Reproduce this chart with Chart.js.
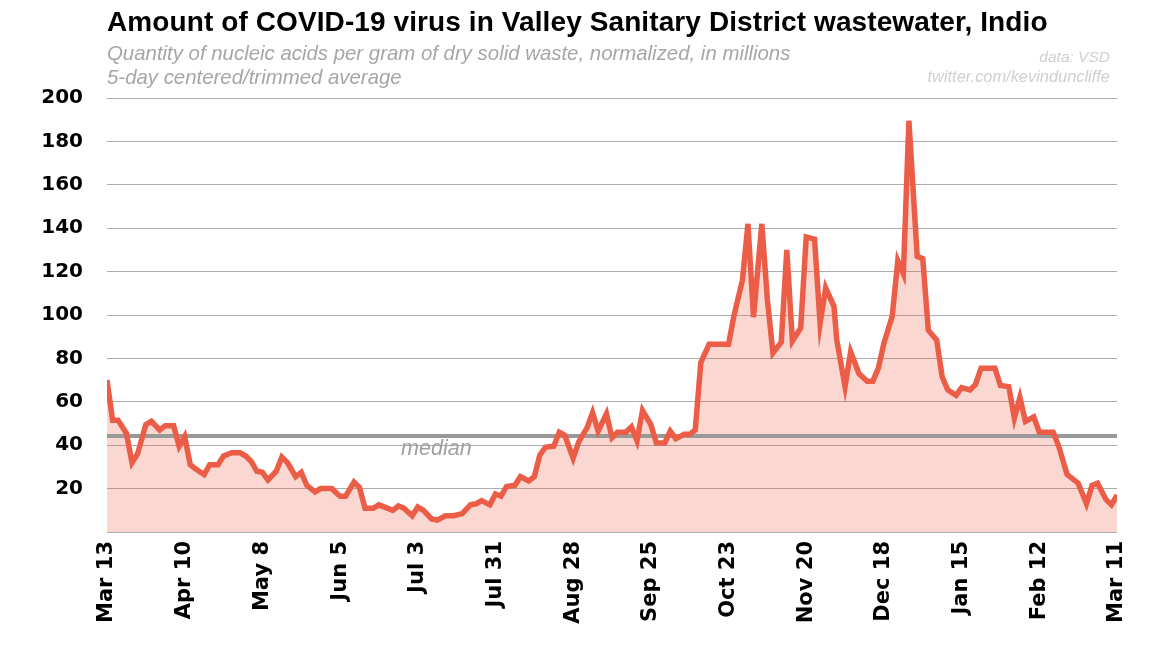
<!DOCTYPE html>
<html>
<head>
<meta charset="utf-8">
<script src="https://cdn.jsdelivr.net/npm/chart.js@4.4.1/dist/chart.umd.min.js"></script>
<style>
    html, body { margin: 0; padding: 0; background: #fff; }
    #wrap { position: relative; width: 1152px; height: 648px; overflow: hidden; }
    canvas { position: absolute; left: 0; top: 0; }
    .title { position: absolute; left: 107px; top: 6px; font-family: "Liberation Sans", Arial, sans-serif; font-weight: bold; font-size: 28px; color: #000; white-space: nowrap; letter-spacing: 0.1px; }
    .sub { position: absolute; left: 107px; font-family: "Liberation Sans", Arial, sans-serif; font-style: italic; font-size: 20.4px; color: #a6a6a6; white-space: nowrap; }
    .credit { position: absolute; right: 42px; font-family: "Liberation Sans", Arial, sans-serif; font-style: italic; color: #cfcfcf; white-space: nowrap; text-align: right; }
</style>
</head>
<body>
<div id="wrap">
    <canvas id="covidChart" width="1152" height="648"></canvas>
    <div class="title">Amount of COVID-19 virus in Valley Sanitary District wastewater, Indio</div>
    <div class="sub" style="top:42px">Quantity of nucleic acids per gram of dry solid waste, normalized, in millions</div>
    <div class="sub" style="top:66px">5-day centered/trimmed average</div>
    <div class="credit" style="top:48px; font-size:15.5px">data: VSD</div>
    <div class="credit" style="top:67px; font-size:16.4px">twitter.com/kevinduncliffe</div>
</div>
<script>
    // days since Mar 13, and the 5-day average
    const days = [
        0, 2, 4, 7, 9, 11, 14, 16, 19, 21, 24, 26, 28, 30, 32, 35, 37, 40, 42, 45,
        48, 50, 52, 54, 56, 58, 61, 63, 65, 68, 70, 72, 75, 77, 81, 84, 86, 89, 91, 93,
        96, 98, 101, 103, 105, 107, 110, 112, 114, 117, 119, 122, 125, 128, 131, 133, 135, 138, 140, 142,
        144, 147, 149, 152, 154, 156, 158, 161, 163, 165, 168, 170, 173, 175, 177, 180, 182, 184, 187, 189,
        191, 193, 196, 198, 201, 203, 205, 208, 210, 212, 214, 217, 224, 226, 229, 231, 233, 236, 238, 240,
        243, 245, 247, 250, 252, 255, 257, 259, 262, 263, 266, 268, 271, 274, 276, 278, 280, 283, 285, 287,
        289, 292, 294, 296, 299, 301, 303, 306, 308, 311, 313, 315, 320, 322, 325, 327, 329, 331, 334, 336,
        341, 343, 346, 350, 353, 355, 357, 360, 362, 364
    ];
    const values = [
        70, 51.5, 51.5, 45.5, 32, 36, 49.5, 51, 47, 49, 49, 39.5, 44, 31, 29, 26.5, 31, 31, 35, 36.5,
        36.5, 35, 32.5, 28, 27.5, 24, 28, 34.5, 32, 25.5, 27.5, 21.5, 18.5, 20, 20, 16.5, 16.5, 23, 20.5, 11,
        11, 12.5, 11, 10, 12, 11, 7.5, 11.5, 10, 6, 5.5, 7.5, 7.5, 8.5, 12.5, 13, 14.5, 12.5, 17.5, 16.5,
        21, 21.5, 25.5, 23.5, 25.5, 35.5, 39, 39.5, 46, 44.5, 34, 41.5, 48, 55, 46.5, 54.5, 43.5, 46, 46, 48.5,
        42, 56, 49.5, 41, 41, 46.5, 43, 45, 45, 47, 78, 86.5, 86.5, 100, 116, 142, 99, 142, 107, 82.5,
        87.5, 130, 88, 94, 136, 135, 96, 112.5, 104, 88.5, 67, 83, 73, 69.5, 69.5, 75.5, 87, 99.5, 125, 119,
        189.5, 127, 126, 93, 88.5, 71.5, 65.5, 63, 66.5, 65.5, 68, 75.5, 75.5, 67.5, 67, 52.5, 62, 51, 53, 46,
        46, 39.5, 26.5, 22.5, 13, 21.5, 22.5, 15, 12.5, 17
    ];
    const tickDays = [0, 28, 56, 84, 112, 140, 168, 196, 224, 252, 280, 308, 336, 364];
    const tickLabels = ['Mar 13', 'Apr 10', 'May 8', 'Jun 5', 'Jul 3', 'Jul 31', 'Aug 28',
        'Sep 25', 'Oct 23', 'Nov 20', 'Dec 18', 'Jan 15', 'Feb 12', 'Mar 11'];
    const medianValue = 44.2;
    const medianLabel = 'median';

    const tickFont = { family: "'DejaVu Sans', sans-serif", weight: 'bold' };

    // median line sits on top of the fill but under the red line
    const medianPlugin = {
        id: 'medianLine',
        beforeDatasetDraw(chart) {
            const { ctx, chartArea, scales } = chart;
            const y = scales.y.getPixelForValue(medianValue);
            ctx.save();
            ctx.strokeStyle = '#999';
            ctx.lineWidth = 4;
            ctx.beginPath();
            ctx.moveTo(chartArea.left, y);
            ctx.lineTo(chartArea.right, y);
            ctx.stroke();
            ctx.fillStyle = '#a0a0a0';
            ctx.font = "italic 21.5px 'Liberation Sans', Arial, sans-serif";
            ctx.textBaseline = 'alphabetic';
            ctx.fillText(medianLabel, scales.x.getPixelForValue(106), y + 19);
            ctx.restore();
        }
    };

    new Chart(document.getElementById('covidChart').getContext('2d'), {
        type: 'line',
        data: {
            datasets: [{
                data: days.map((d, i) => ({ x: d, y: values[i] })),
                borderColor: '#ec5d48',
                backgroundColor: 'rgba(240, 96, 76, 0.25)',
                borderWidth: 5.5,
                borderJoinStyle: 'miter',
                fill: 'origin',
                pointRadius: 0,
                tension: 0
            }]
        },
        options: {
            responsive: false,
            animation: false,
            layout: { padding: { top: 98, right: 35, left: 0, bottom: 0 } },
            plugins: {
                legend: { display: false },
                tooltip: { enabled: false }
            },
            scales: {
                x: {
                    type: 'linear',
                    min: 0,
                    max: 364,
                    afterBuildTicks: (scale) => {
                        scale.ticks = tickDays.map(v => ({ value: v }));
                    },
                    afterFit: (scale) => { scale.height = 116; },
                    grid: { display: false, drawTicks: false },
                    border: { display: false },
                    ticks: {
                        autoSkip: false,
                        minRotation: 90,
                        maxRotation: 90,
                        padding: 9,
                        color: '#000',
                        font: { ...tickFont, size: 21 },
                        callback: (v) => tickLabels[tickDays.indexOf(v)]
                    }
                },
                y: {
                    min: 0,
                    max: 200,
                    afterBuildTicks: (scale) => {
                        const t = [];
                        for (let v = 0; v <= 200; v += 10) t.push({ value: v });
                        scale.ticks = t;
                    },
                    afterFit: (scale) => { scale.width = 107; },
                    grid: {
                        drawTicks: false,
                        lineWidth: 1,
                        color: (c) => (c.tick && c.tick.value % 20 === 0) ? '#acacac' : '#e2e2e2'
                    },
                    border: { display: false },
                    ticks: {
                        padding: 24,
                        color: '#000',
                        font: { ...tickFont, size: 20 },
                        callback: (v) => (v % 20 === 0 && v > 0) ? v : ''
                    }
                }
            }
        },
        plugins: [medianPlugin]
    });
</script>
</body>
</html>
